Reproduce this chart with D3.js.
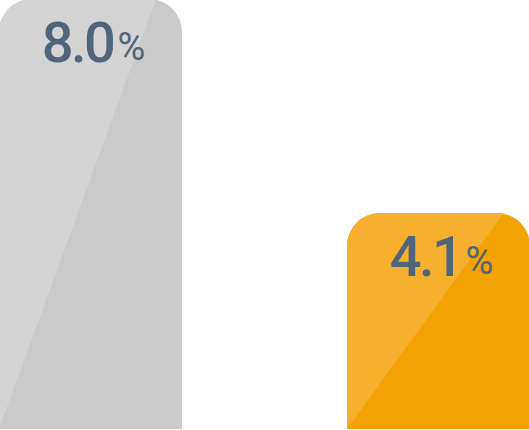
<!DOCTYPE html>
<html>
<head>
<meta charset="utf-8">
<script src="https://cdn.jsdelivr.net/npm/d3@7"></script>
<style>
  body { margin: 0; background: #fff; overflow: hidden; }
  svg { display: block; }
</style>
</head>
<body>
<svg id="chart" width="529" height="430"></svg>
<script>
// chart values
const categories = ["A", "B"];
const values = [8.0, 4.1];
const labels = ["8.0", "4.1"];
const fills = ["#cacaca", "#f4a201"];
const shines = ["#d4d4d4", "#f6b030"];

const width = 529, height = 430;
const bottom = 429;   // visible base of the bars
const radius = 33;

var svg = d3.select("#chart");

// bars sit a little outside the frame, like the original crop
const x = d3.scaleBand()
  .domain(categories)
  .range([-1, 530])
  .paddingInner(165 / 348);

const y = d3.scaleLinear()
  .domain([0, 8])
  .range([438, -1]);

// rounded top corners, square bottom
function barPath(x0, y0, w, y1, r) {
  return "M" + x0 + "," + y1 +
    "V" + (y0 + r) +
    "A" + r + "," + r + " 0 0 1 " + (x0 + r) + "," + y0 +
    "H" + (x0 + w - r) +
    "A" + r + "," + r + " 0 0 1 " + (x0 + w) + "," + (y0 + r) +
    "V" + y1 + "Z";
}

let defs = svg.append("defs");

categories.forEach((cat, i) => {
  let x0 = x(cat);
  let w = x.bandwidth();
  let top = y(values[i]);
  let d = barPath(x0, top, w, bottom, radius);

  // clip for the diagonal highlight
  defs.append("clipPath")
    .attr("id", "clip" + i)
    .append("path")
    .attr("d", d);

  let g = svg.append("g");

  g.append("path")
    .attr("d", d)
    .attr("fill", fills[i]);

  // lighter triangle from the bottom-left corner up to the top edge
  g.append("path")
    .attr("clip-path", "url(#clip" + i + ")")
    .attr("d", "M" + x0 + "," + bottom + "V" + (top - 1) + "H" + (x0 + w * 0.86) + "Z")
    .attr("fill", shines[i]);

  // value label
  let t = g.append("text")
    .attr("x", x0 + w / 2 + 3)
    .attr("y", top + 63)
    .attr("text-anchor", "middle")
    .attr("fill", "#50647a")
    .style("font-family", "Roboto, sans-serif");

  t.append("tspan")
    .style("font-size", "56px")
    .style("font-weight", "500")
    .style("letter-spacing", "-2.5px")
    .text(labels[i]);

  t.append("tspan")
    .attr("dx", 4)
    .attr("dy", -2)
    .style("font-size", "38px")
    .style("font-weight", "400")
    .text("%");
});
</script>
</body>
</html>
